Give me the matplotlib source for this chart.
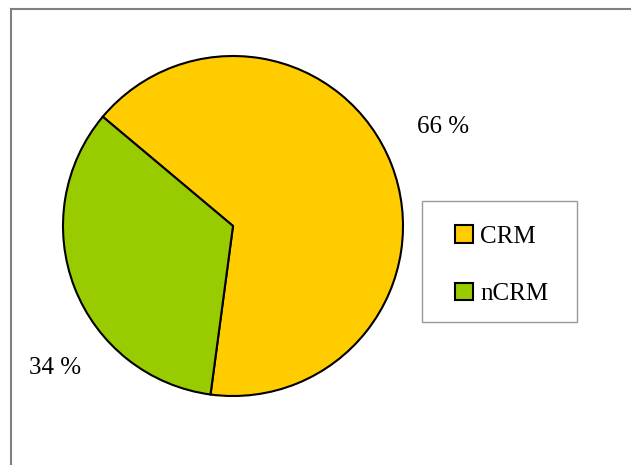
import matplotlib
matplotlib.use("Agg")
import matplotlib.pyplot as plt
from matplotlib.lines import Line2D
from matplotlib.patches import Rectangle

categories = ["CRM", "nCRM"]
values = [66, 34]
labels_pct = ["66 %", "34 %"]
colors = ["#FFCC00", "#99CC00"]

plt.rcParams['font.family'] = ['Liberation Serif', 'DejaVu Serif']

W, H = 631, 465
fig = plt.figure(figsize=(W/100, H/100), dpi=100)

# outer frame (left, top)
fig.add_artist(Line2D([11/W, 11/W], [0, 1-9/H], transform=fig.transFigure, color="#808080", lw=1.5))
fig.add_artist(Line2D([11/W, 1], [1-9/H, 1-9/H], transform=fig.transFigure, color="#808080", lw=1.5))

cx, cy, r = 233, 226, 170
m = 1.02
ax = fig.add_axes([(cx-r*m)/W, 1-(cy+r*m)/H, 2*r*m/W, 2*r*m/H])
wedges, _ = ax.pie(values, colors=colors, startangle=140.0, counterclock=False,
                   wedgeprops=dict(edgecolor="black", linewidth=1.5), radius=1)
ax.set_xlim(-m, m)
ax.set_ylim(-m, m)
ax.set_aspect('equal')
ax.axis('off')

# percentage labels (figure pixel positions)
fig.text(443/W, 1-127/H, labels_pct[0], ha='center', va='center', fontsize=18)
fig.text(55/W, 1-368/H, labels_pct[1], ha='center', va='center', fontsize=18)

# legend frame
fig.add_artist(Rectangle((422/W, 1-322/H), 155/W, 121/H, transform=fig.transFigure,
                         fill=False, edgecolor="#999999", lw=1.0))
leg = fig.legend(wedges, categories, loc='center left',
                 bbox_to_anchor=(455/W, 1-265/H), fontsize=18,
                 frameon=False,
                 handlelength=0.7, handleheight=0.7, handletextpad=0.3,
                 labelspacing=1.4, borderpad=0, borderaxespad=0)

fig.savefig("out.png", dpi=100)
